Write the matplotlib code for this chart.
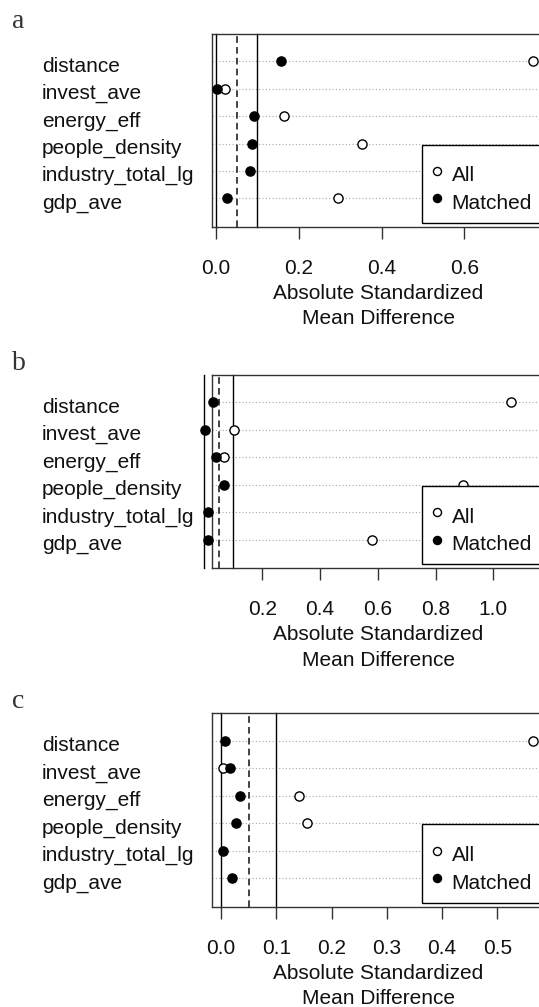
import numpy as np
import matplotlib
matplotlib.use('Agg')
import matplotlib.pyplot as plt
import matplotlib.transforms as mtransforms
from matplotlib.patches import Rectangle
from matplotlib.ticker import MultipleLocator, FormatStrFormatter

plt.rcParams['font.family'] = ['Liberation Sans', 'DejaVu Sans']

# covariates, top to bottom
covariates = ['distance', 'invest_ave', 'energy_eff', 'people_density',
              'industry_total_lg', 'gdp_ave']

# absolute standardized mean differences
a_all = [0.765, 0.021, 0.164, 0.353, 0.62, 0.295]
a_matched = [0.158, 0.003, 0.091, 0.086, 0.083, 0.027]

b_all = [1.061, 0.102, 0.069, 0.895, 0.95, 0.580]
b_matched = [0.031, 0.002, 0.040, 0.069, 0.012, 0.012]

c_all = [0.565, 0.004, 0.141, 0.156, 0.45, 0.40]
c_matched = [0.008, 0.017, 0.035, 0.028, 0.004, 0.019]

thresholds = [0.0, 0.05, 0.1]

W, H = 539, 1007
fig = plt.figure(figsize=(W / 100, H / 100), dpi=100)

# letter, all, matched, xlim, tick step, box top px, box bottom px
panels = [
    ('a', a_all, a_matched, (-0.0097, 0.79), 0.2, 34.0, 226.7),
    ('b', b_all, b_matched, (0.026, 1.172), 0.2, 375.0, 568.3),
    ('c', c_all, c_matched, (-0.0163, 0.5825), 0.1, 713.3, 906.7),
]

ax_left, ax_right = 212, 543
dark = '#111111'

for letter, vals_all, vals_matched, xlim, step, top, bot in panels:
    ax = fig.add_axes([ax_left / W, 1 - bot / H, (ax_right - ax_left) / W, (bot - top) / H])
    ax.set_xlim(*xlim)
    ax.set_ylim(-0.03, 7.0)
    ypos = np.arange(len(covariates), 0, -1)

    for y in ypos:
        ax.axhline(y, color='#a8a8a8', lw=0.8, ls=(0, (1, 2)), zorder=1)

    ax.axvline(thresholds[0], color='black', lw=1.0, clip_on=False, zorder=2)
    ax.axvline(thresholds[1], color='#222222', lw=1.2, ls=(0, (4, 2.5)), clip_on=False, zorder=2)
    ax.axvline(thresholds[2], color='black', lw=1.0, clip_on=False, zorder=2)

    ax.plot(vals_all, ypos, 'o', ms=6.6, mfc='white', mec='black', mew=1.0,
            clip_on=False, zorder=3)
    ax.plot(vals_matched, ypos, 'o', ms=6.6, mfc='black', mec='black',
            clip_on=False, zorder=4)

    # covariate names
    tr = mtransforms.blended_transform_factory(fig.transFigure, ax.transData)
    for y, name in zip(ypos, covariates):
        ax.text(42 / W, y - 0.37, name, transform=tr, ha='left', va='baseline',
                fontsize=15, color=dark)

    # legend (drawn by hand so it can run off the right edge like the original)
    lt = mtransforms.blended_transform_factory(ax.transAxes, ax.transData)
    ax.add_patch(Rectangle((0.6344, 0.12), 0.45, 2.84, transform=lt, facecolor='white',
                           edgecolor='black', lw=1.0, clip_on=False, zorder=6))
    ax.plot([0.6807], [2], 'o', ms=5.8, mfc='white', mec='black', mew=1.0,
            transform=lt, clip_on=False, zorder=7)
    ax.plot([0.6807], [1], 'o', ms=5.8, mfc='black', mec='black',
            transform=lt, clip_on=False, zorder=7)
    ax.text(0.7236, 2 - 0.37, 'All', transform=lt, fontsize=15, color=dark,
            va='baseline', zorder=7)
    ax.text(0.7236, 1 - 0.37, 'Matched', transform=lt, fontsize=15, color=dark,
            va='baseline', zorder=7)

    for s in ax.spines.values():
        s.set_color('#333333')
        s.set_linewidth(1.0)
    ax.set_yticks([])
    ax.xaxis.set_major_locator(MultipleLocator(step))
    ax.xaxis.set_major_formatter(FormatStrFormatter('%.1f'))
    ax.tick_params(axis='x', length=8.5, width=1.0, color='#333333', pad=14.4,
                   labelsize=15, labelcolor=dark)

    # axis title, two lines
    cx = 378 / W
    fig.text(cx, 1 - (bot + 72.0) / H, 'Absolute Standardized', ha='center',
             va='baseline', fontsize=15, color=dark)
    fig.text(cx, 1 - (bot + 97.8) / H, 'Mean Difference', ha='center',
             va='baseline', fontsize=15, color=dark)

    # panel letter
    fig.text(11.7 / W, 1 - (top - 5.5) / H, letter, ha='left', va='baseline',
             fontsize=20, color='#333333', family='Liberation Serif')

fig.savefig('out.png', dpi=100)
